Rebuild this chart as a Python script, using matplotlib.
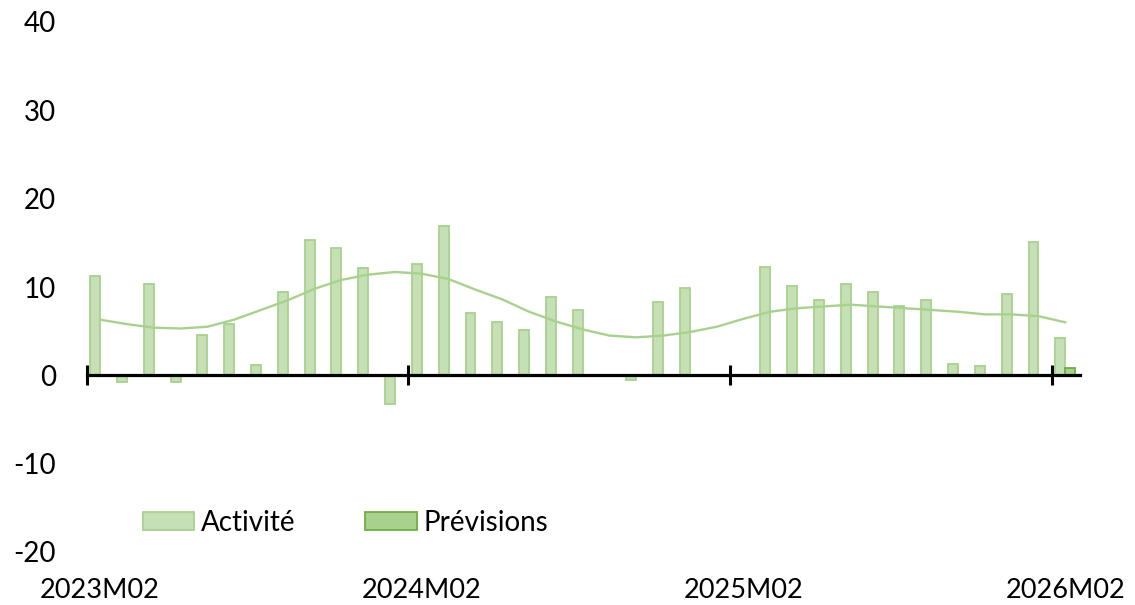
import numpy as np
import matplotlib
matplotlib.use("Agg")
import matplotlib.pyplot as plt

# ---- data ----
categories = [f"{2023 + (1 + m) // 12}M{(1 + m) % 12 + 1:02d}" for m in range(37)]
activite = [11.2, -0.8, 10.3, -0.8, 4.6, 5.8, 1.2, 9.4, 15.3, 14.4, 12.1, -3.2,
            12.6, 16.9, 7.1, 6.0, 5.1, 8.9, 7.4, np.nan, -0.5, 8.3, 9.9, np.nan,
            np.nan, 12.3, 10.1, 8.5, 10.3, 9.4, 7.8, 8.5, 1.3, 1.1, 9.2, 15.1, 4.2]
previsions = [np.nan] * 36 + [0.8]
tendance = [6.3, 5.8, 5.4, 5.3, 5.5, 6.3, 7.4, 8.5, 9.8, 10.8, 11.4, 11.7,
            11.5, 10.9, 9.7, 8.6, 7.2, 6.1, 5.2, 4.5, 4.3, 4.5, 4.9, 5.5,
            6.4, 7.2, 7.6, 7.8, 8.0, 7.8, 7.6, 7.4, 7.2, 6.9, 6.9, 6.7, 6.0]
label_idx = [0, 12, 24, 36]
yticks = [-20, -10, 0, 10, 20, 30, 40]

plt.rcParams['font.family'] = ['Lato', 'DejaVu Sans']

fig = plt.figure(figsize=(11.35, 6.05), dpi=100)
ax = fig.add_axes([86.7 / 1135, 1 - 552 / 605, (1080 - 86.7) / 1135, 530 / 605])

x = np.arange(len(categories))
w = 0.37
ax.bar(x - 0.185, activite, width=w, color='#C5E0B4', edgecolor='#A9D18E',
       linewidth=1.3, label='Activité', zorder=2)
ax.bar(x + 0.185, previsions, width=w, color='#A9D18E', edgecolor='#70AD47',
       linewidth=1.3, label='Prévisions', zorder=2)
ax.plot(x, tendance, color='#A9D18E', linewidth=1.7, zorder=3)

ax.set_xlim(-0.5, len(categories) - 0.45)
ax.set_ylim(-20, 40)
ax.set_yticks(yticks)
ax.set_yticklabels([str(v) for v in yticks], fontsize=20)
ax.tick_params(axis='y', length=0, pad=22)

for s in ['left', 'right', 'top']:
    ax.spines[s].set_visible(False)
ax.spines['bottom'].set_position(('data', 0))
ax.spines['bottom'].set_linewidth(2.3)
ax.spines['bottom'].set_zorder(4)
ax.set_xticks([i - 0.5 for i in label_idx if i - 0.5 < len(categories) - 0.5])
ax.set_xticklabels([])
ax.tick_params(axis='x', direction='inout', length=14, width=2.2, color='black')

for i in label_idx:
    ax.text(i, -0.05, categories[i], transform=ax.get_xaxis_transform(),
            ha='center', va='top', fontsize=19.5, clip_on=False)

leg = ax.legend(loc='center left', bbox_to_anchor=(143 / 1135, 1 - 523 / 605),
                bbox_transform=fig.transFigure, ncol=2, frameon=False, fontsize=20,
                borderpad=0, borderaxespad=0, handlelength=1.85, handleheight=0.6,
                handletextpad=0.25, columnspacing=2.5)

fig.savefig('out.png', dpi=100)
